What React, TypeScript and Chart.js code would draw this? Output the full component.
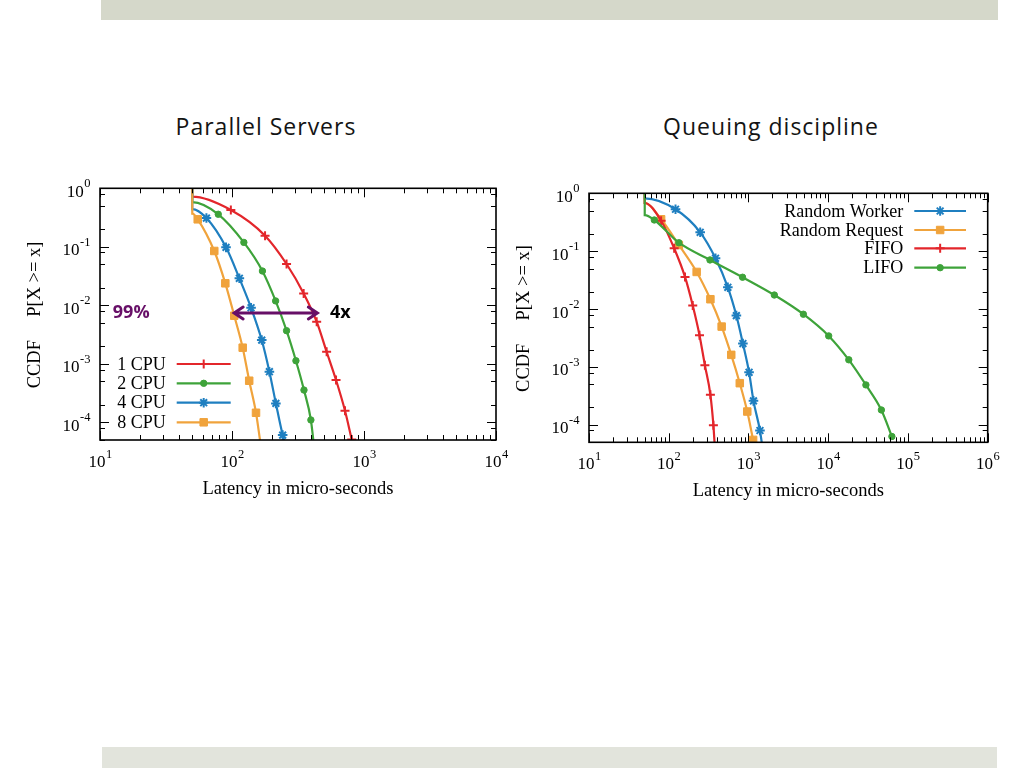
import React, { useEffect, useRef } from "react";
import { Chart, registerables } from "chart.js";

Chart.register(...registerables);

// ---------- shared axis data ----------
const START_X = 50;
const Y_MIN = 5e-5;
const Y_MAX = 1;
const Y_MAJORS = [1, 1e-1, 1e-2, 1e-3, 1e-4];
const Y_MINOR_FACTORS = [2, 5, 8];
const X_MINOR_FACTORS = [2, 3, 4, 5, 6, 7, 8, 9];
const LEFT_X_MAJORS = [1e1, 1e2, 1e3, 1e4];
const RIGHT_X_MAJORS = [1e1, 1e2, 1e3, 1e4, 1e5, 1e6];

const X_TITLE = "Latency in micro-seconds";
const Y_TITLE_A = "CCDF";
const Y_TITLE_B = "P[X >= x]";

const LEFT_TITLE = "Parallel Servers";
const RIGHT_TITLE = "Queuing discipline";

// ---------- left chart: parallel servers ----------
const LEFT_LABELS = ["1 CPU", "2 CPU", "4 CPU", "8 CPU"];

const CPU1_X = [50, 50, 98, 178, 259, 349, 438, 521, 614, 718, 807];
const CPU1_Y = [1, 0.72, 0.426, 0.155, 0.0509, 0.016, 0.00526, 0.00161, 0.00053, 0.000158, 0.000051];

const CPU2_X = [50, 50, 78.7, 123, 170, 214, 259, 305, 351, 396, 413];
const CPU2_Y = [1, 0.58, 0.36, 0.119, 0.0386, 0.0119, 0.00369, 0.00113, 0.000357, 0.00011, 0.00005];

const CPU4_X = [50, 50, 64, 90.1, 113.7, 139.4, 168, 192, 215, 242, 248];
const CPU4_Y = [1, 0.44, 0.31, 0.098, 0.029, 0.0091, 0.00255, 0.000734, 0.000211, 0.0000607, 0.00005];

const CPU8_X = [50, 50, 55, 73.4, 89, 104, 120.5, 135, 152, 163];
const CPU8_Y = [1, 0.37, 0.295, 0.0849, 0.0238, 0.00665, 0.00189, 0.000515, 0.000146, 0.00005];

// annotation on the left chart
const ARROW_FROM_X = 102;
const ARROW_TO_X = 451;
const ARROW_Y = 0.0074;
const NOTE_99 = "99%";
const NOTE_99_X = 12.5;
const NOTE_4X = "4x";
const NOTE_4X_X = 552;

// ---------- right chart: queuing discipline ----------
const RIGHT_LABELS = ["Random Worker", "Random Request", "FIFO", "LIFO"];

const RW_X = [50, 50, 121.6, 248, 386, 551, 705, 851, 1017, 1155, 1393, 1466];
const RW_Y = [1, 0.82, 0.53, 0.212, 0.0755, 0.0238, 0.00772, 0.00254, 0.00081, 0.00026, 0.00008, 0.00005];

const RR_X = [50, 50, 80.2, 134, 224, 333, 461, 608, 778, 966, 1143];
const RR_Y = [1, 0.68, 0.356, 0.128, 0.0438, 0.0148, 0.00498, 0.00162, 0.000525, 0.00017, 0.000055];

const FIFO_X = [50, 50, 80.2, 117, 160, 200, 243, 284, 333, 363, 375];
const FIFO_Y = [1, 0.68, 0.336, 0.112, 0.0359, 0.0115, 0.00354, 0.00107, 0.00033, 0.000099, 0.00005];

const LIFO_X = [50, 50, 65.9, 134, 329, 843, 2110, 4880, 10140, 18120, 29700, 46400, 62900];
const LIFO_Y = [1, 0.42, 0.346, 0.14, 0.0706, 0.0355, 0.0175, 0.00815, 0.00344, 0.00133, 0.00049, 0.000181, 0.000063];

// ---------- styles ----------
type MarkStyle = { color: string; pointStyle: string; radius: number; markBorder: number };
const RED: MarkStyle = { color: "#e3262b", pointStyle: "cross", radius: 4.5, markBorder: 2 };
const GREEN: MarkStyle = { color: "#3ea33a", pointStyle: "circle", radius: 3.2, markBorder: 1 };
const BLUE: MarkStyle = { color: "#1f7fc0", pointStyle: "star", radius: 4.8, markBorder: 2 };
const ORANGE: MarkStyle = { color: "#f0a33c", pointStyle: "rect", radius: 5.3, markBorder: 1 };
const PURPLE = "#670f67";

const SERIF = '"Liberation Serif", "DejaVu Serif", serif';
const SANS = '"Open Sans", "Noto Sans", sans-serif';

function makeDataset(label: string, xs: number[], ys: number[], st: MarkStyle, order: number) {
  const data = xs.map((x, i) => ({ x, y: ys[i] }));
  return {
    label,
    data,
    showLine: true,
    borderColor: st.color,
    backgroundColor: st.color,
    borderWidth: 2.2,
    pointStyle: st.pointStyle,
    pointBackgroundColor: st.color,
    pointBorderColor: st.color,
    pointBorderWidth: st.markBorder,
    pointRadius: (ctx: any) => {
      const p = ctx.raw;
      if (!p) return 0;
      return p.x === START_X || p.y <= Y_MIN ? 0 : st.radius;
    },
    cubicInterpolationMode: "monotone",
    order,
    _mark: st,
  } as any;
}

function drawMarker(ctx: CanvasRenderingContext2D, st: MarkStyle, x: number, y: number) {
  const r = st.radius;
  ctx.save();
  ctx.strokeStyle = st.color;
  ctx.fillStyle = st.color;
  ctx.lineWidth = st.markBorder;
  ctx.beginPath();
  if (st.pointStyle === "circle") {
    ctx.arc(x, y, r, 0, Math.PI * 2);
    ctx.fill();
    ctx.stroke();
  } else if (st.pointStyle === "rect") {
    const s = r * Math.SQRT1_2;
    ctx.rect(x - s, y - s, 2 * s, 2 * s);
    ctx.fill();
    ctx.stroke();
  } else {
    ctx.moveTo(x - r, y);
    ctx.lineTo(x + r, y);
    ctx.moveTo(x, y - r);
    ctx.lineTo(x, y + r);
    if (st.pointStyle === "star") {
      const d = r * Math.SQRT1_2;
      ctx.moveTo(x - d, y - d);
      ctx.lineTo(x + d, y + d);
      ctx.moveTo(x - d, y + d);
      ctx.lineTo(x + d, y - d);
    }
    ctx.stroke();
  }
  ctx.restore();
}

function drawPow(ctx: CanvasRenderingContext2D, v: number, x: number, y: number, align: "center" | "right") {
  const exp = String(Math.round(Math.log10(v)));
  ctx.font = `17px ${SERIF}`;
  const wb = ctx.measureText("10").width;
  ctx.font = `12.5px ${SERIF}`;
  const we = ctx.measureText(exp).width;
  const total = wb + we;
  const x0 = align === "center" ? x - total / 2 : x - total;
  ctx.textAlign = "left";
  ctx.textBaseline = "alphabetic";
  ctx.font = `17px ${SERIF}`;
  ctx.fillText("10", x0, y);
  ctx.font = `12.5px ${SERIF}`;
  ctx.fillText(exp, x0 + wb + 0.5, y - 9.5);
}

type LegendCfg = (a: { left: number; right: number; top: number; bottom: number }) => {
  textRight: number;
  lineStart: number;
  lineEnd: number;
  rows: number[];
};

function decorPlugin(xMajors: number[], legend: LegendCfg, annotate?: (chart: any) => void) {
  return {
    id: "decor",
    afterDatasetsDraw(chart: any) {
      const ctx: CanvasRenderingContext2D = chart.ctx;
      const a = chart.chartArea;
      const xs = chart.scales.x;
      const ys = chart.scales.y;
      ctx.save();
      ctx.fillStyle = "#000";
      ctx.strokeStyle = "#000";

      // inner ticks
      ctx.lineWidth = 1;
      ctx.beginPath();
      const MAJ = 9;
      const MIN = 5;
      xMajors.forEach((m, i) => {
        const px = Math.round(xs.getPixelForValue(m)) + 0.5;
        ctx.moveTo(px, a.bottom);
        ctx.lineTo(px, a.bottom - MAJ);
        ctx.moveTo(px, a.top);
        ctx.lineTo(px, a.top + MAJ);
        if (i < xMajors.length - 1) {
          X_MINOR_FACTORS.forEach((f) => {
            const qx = Math.round(xs.getPixelForValue(m * f)) + 0.5;
            ctx.moveTo(qx, a.bottom);
            ctx.lineTo(qx, a.bottom - MIN);
            ctx.moveTo(qx, a.top);
            ctx.lineTo(qx, a.top + MIN);
          });
        }
      });
      Y_MAJORS.forEach((m) => {
        const py = Math.round(ys.getPixelForValue(m)) + 0.5;
        ctx.moveTo(a.left, py);
        ctx.lineTo(a.left + MAJ, py);
        ctx.moveTo(a.right, py);
        ctx.lineTo(a.right - MAJ, py);
        Y_MINOR_FACTORS.forEach((f) => {
          const v = (m / 10) * f;
          if (v < Y_MIN) return;
          const qy = Math.round(ys.getPixelForValue(v)) + 0.5;
          ctx.moveTo(a.left, qy);
          ctx.lineTo(a.left + MIN, qy);
          ctx.moveTo(a.right, qy);
          ctx.lineTo(a.right - MIN, qy);
        });
      });
      ctx.stroke();

      // frame
      ctx.lineWidth = 1.6;
      ctx.strokeRect(a.left, a.top, a.right - a.left, a.bottom - a.top);

      // tick labels
      xMajors.forEach((m) => drawPow(ctx, m, xs.getPixelForValue(m), a.bottom + 27, "center"));
      Y_MAJORS.forEach((m) => drawPow(ctx, m, a.left - 10, ys.getPixelForValue(m) + 8.5, "right"));

      // axis titles
      ctx.font = `18.5px ${SERIF}`;
      ctx.textAlign = "center";
      ctx.textBaseline = "alphabetic";
      ctx.fillText(X_TITLE, (a.left + a.right) / 2, a.bottom + 54);
      const yc = (a.top + a.bottom) / 2;
      const tx = a.left - 64.5;
      ctx.textBaseline = "middle";
      [
        [Y_TITLE_B, yc - 35],
        [Y_TITLE_A, yc + 50],
      ].forEach(([t, y]) => {
        ctx.save();
        ctx.translate(tx, y as number);
        ctx.rotate(-Math.PI / 2);
        ctx.fillText(t as string, 0, 0);
        ctx.restore();
      });

      // legend
      const lg = legend(a);
      ctx.font = `18px ${SERIF}`;
      ctx.textAlign = "right";
      ctx.textBaseline = "middle";
      chart.data.datasets.forEach((ds: any, i: number) => {
        const y = lg.rows[i];
        ctx.fillStyle = "#000";
        ctx.fillText(ds.label, lg.textRight, y + 1);
        ctx.strokeStyle = ds.borderColor;
        ctx.lineWidth = 2.2;
        ctx.beginPath();
        ctx.moveTo(lg.lineStart, y);
        ctx.lineTo(lg.lineEnd, y);
        ctx.stroke();
        drawMarker(ctx, ds._mark, (lg.lineStart + lg.lineEnd) / 2, y);
      });

      if (annotate) annotate(chart);
      ctx.restore();
    },
  };
}

function annotateLeft(chart: any) {
  const ctx: CanvasRenderingContext2D = chart.ctx;
  const xs = chart.scales.x;
  const ys = chart.scales.y;
  const x0 = xs.getPixelForValue(ARROW_FROM_X);
  const x1 = xs.getPixelForValue(ARROW_TO_X);
  const y = ys.getPixelForValue(ARROW_Y);
  ctx.save();
  ctx.strokeStyle = PURPLE;
  ctx.lineWidth = 3;
  ctx.lineCap = "round";
  ctx.beginPath();
  ctx.moveTo(x0 + 2, y);
  ctx.lineTo(x1 - 2, y);
  ctx.moveTo(x0 + 10, y - 6);
  ctx.lineTo(x0 + 1, y);
  ctx.lineTo(x0 + 10, y + 6);
  ctx.moveTo(x1 - 10, y - 6);
  ctx.lineTo(x1 - 1, y);
  ctx.lineTo(x1 - 10, y + 6);
  ctx.stroke();
  ctx.font = `bold 18px ${SANS}`;
  ctx.textAlign = "left";
  ctx.textBaseline = "middle";
  ctx.fillStyle = PURPLE;
  ctx.fillText(NOTE_99, xs.getPixelForValue(NOTE_99_X), y);
  ctx.fillStyle = "#000";
  ctx.fillText(NOTE_4X, xs.getPixelForValue(NOTE_4X_X), y);
  ctx.restore();
}

function buildConfig(
  datasets: any[],
  xMax: number,
  xMajors: number[],
  padding: { left: number; top: number; right: number; bottom: number },
  legend: LegendCfg,
  annotate?: (chart: any) => void
): any {
  return {
    type: "scatter",
    data: { datasets },
    options: {
      responsive: false,
      maintainAspectRatio: false,
      animation: false,
      events: [],
      layout: { padding },
      plugins: { legend: { display: false }, tooltip: { enabled: false } },
      scales: {
        x: {
          type: "logarithmic",
          min: 10,
          max: xMax,
          ticks: { display: false },
          grid: { display: false, drawTicks: false },
          border: { display: false },
          afterFit: (s: any) => {
            s.height = 0;
          },
        },
        y: {
          type: "logarithmic",
          min: Y_MIN,
          max: Y_MAX,
          ticks: { display: false },
          grid: { display: false, drawTicks: false },
          border: { display: false },
          afterFit: (s: any) => {
            s.width = 0;
          },
        },
      },
    },
    plugins: [decorPlugin(xMajors, legend, annotate)],
  };
}

function buildLeft() {
  const series = [
    makeDataset(LEFT_LABELS[0], CPU1_X, CPU1_Y, RED, 3),
    makeDataset(LEFT_LABELS[1], CPU2_X, CPU2_Y, GREEN, 2),
    makeDataset(LEFT_LABELS[2], CPU4_X, CPU4_Y, BLUE, 1),
    makeDataset(LEFT_LABELS[3], CPU8_X, CPU8_Y, ORANGE, 0),
  ];
  return buildConfig(
    series,
    1e4,
    LEFT_X_MAJORS,
    { left: 80, top: 18.3, right: 14, bottom: 70 },
    (a) => ({
      textRight: a.left + 65.7,
      lineStart: a.left + 76.7,
      lineEnd: a.left + 130.7,
      rows: [a.bottom - 76, a.bottom - 56.7, a.bottom - 37.3, a.bottom - 17.7],
    }),
    annotateLeft
  );
}

function buildRight() {
  const series = [
    makeDataset(RIGHT_LABELS[0], RW_X, RW_Y, BLUE, 3),
    makeDataset(RIGHT_LABELS[1], RR_X, RR_Y, ORANGE, 2),
    makeDataset(RIGHT_LABELS[2], FIFO_X, FIFO_Y, RED, 1),
    makeDataset(RIGHT_LABELS[3], LIFO_X, LIFO_Y, GREEN, 0),
  ];
  return buildConfig(
    series,
    1e6,
    RIGHT_X_MAJORS,
    { left: 79, top: 23.3, right: 12.3, bottom: 67.7 },
    (a) => ({
      textRight: a.right - 84.4,
      lineStart: a.right - 73.4,
      lineEnd: a.right - 21.7,
      rows: [a.top + 17.7, a.top + 36.7, a.top + 55, a.top + 74.4],
    })
  );
}

function ChartCanvas({ build, left, top, width, height }: any) {
  const ref = useRef<HTMLCanvasElement>(null);
  useEffect(() => {
    const chart = new Chart(ref.current as HTMLCanvasElement, build());
    return () => chart.destroy();
  }, []);
  return (
    <canvas
      ref={ref}
      width={width}
      height={height}
      style={{ position: "absolute", left, top, width, height, display: "block" }}
    />
  );
}

const titleStyle = (center: number): React.CSSProperties => ({
  position: "absolute",
  left: center - 200,
  width: 400,
  top: 114,
  textAlign: "center",
  fontFamily: SANS,
  fontWeight: 400,
  fontSize: 23,
  letterSpacing: "1px",
  lineHeight: "24px",
  color: "#141414",
  whiteSpace: "nowrap",
});

export default function App() {
  return (
    <div
      style={{
        position: "absolute",
        left: 0,
        top: 0,
        width: 1024,
        height: 768,
        background: "#ffffff",
        overflow: "hidden",
      }}
    >
      <div style={{ position: "absolute", left: 101, top: 0, width: 897, height: 20, background: "#d5d8ca" }} />
      <div style={{ position: "absolute", left: 102, top: 747, width: 895, height: 21, background: "#e2e4dc" }} />
      <div style={titleStyle(266)}>{LEFT_TITLE}</div>
      <div style={titleStyle(771)}>{RIGHT_TITLE}</div>
      <ChartCanvas build={buildLeft} left={20} top={170} width={490} height={340} />
      <ChartCanvas build={buildRight} left={510} top={170} width={490} height={340} />
    </div>
  );
}
